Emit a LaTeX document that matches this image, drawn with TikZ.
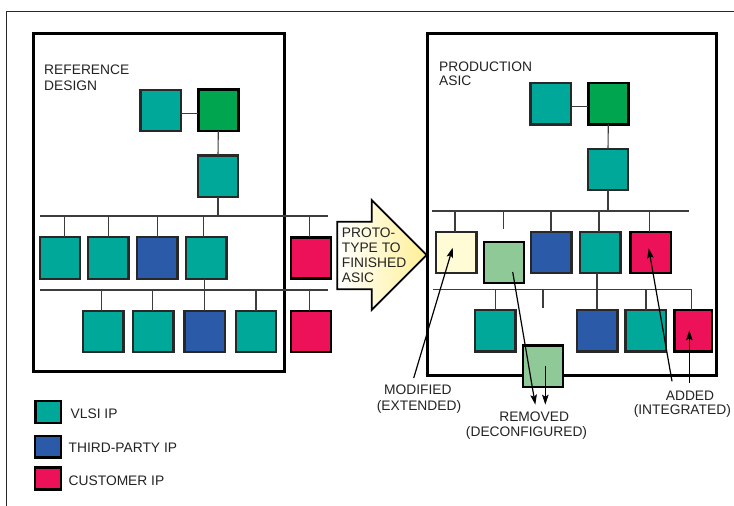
\documentclass[tikz,border=0pt]{standalone}
\usepackage{fontspec}
\setmainfont{Liberation Sans}
\usetikzlibrary{arrows.meta}
\definecolor{teal1}{RGB}{0,168,154}
\definecolor{green1}{RGB}{0,165,80}
\definecolor{blue1}{RGB}{43,90,168}
\definecolor{pink1}{RGB}{237,17,90}
\definecolor{cream1}{RGB}{255,251,213}
\definecolor{lgreen1}{RGB}{143,201,152}
\definecolor{edge1}{RGB}{40,40,40}
\definecolor{wire1}{RGB}{60,60,60}
\definecolor{txt1}{RGB}{35,35,35}
\definecolor{arrowy}{RGB}{255,240,150}
\begin{document}
\begin{tikzpicture}[x=1bp,y=-1bp,
 blk/.style={draw=edge1,line width=2.3bp,minimum width=40.3bp,minimum height=41.3bp,inner sep=0pt,outer sep=0pt},
 sqteal/.style={blk,fill=teal1},
 sqgreen/.style={blk,fill=green1,draw=black,line width=2.7bp},
 sqblue/.style={blk,fill=blue1},
 sqpink/.style={blk,fill=pink1,draw=black,line width=2.6bp},
 sqcream/.style={blk,fill=cream1},
 sqlgreen/.style={blk,fill=lgreen1,draw=black,line width=2.6bp},
 wire/.style={draw=wire1,line width=1.1bp},
 panel/.style={draw=black,line width=2.3bp},
 lbl/.style={text=txt1,font=\fontsize{13.8bp}{17bp}\selectfont,inner sep=0pt,anchor=base west},
 clbl/.style={lbl,anchor=base},
 note/.style={draw=black,line width=1.2bp,-{Stealth[length=10bp,width=6.5bp,inset=2bp]}},
 legendbox/.style={draw=black,line width=2.4bp,minimum width=25.8bp,minimum height=21.8bp,inner sep=0pt}
]
\useasboundingbox (0,0) rectangle (734,506);
\fill[white] (0,0) rectangle (734,506);
% outer frame
\draw[edge1,line width=1bp] (6.7,506) -- (6.7,11.7) -- (734,11.7);
% panels
\draw[panel] (33.5,33.5) rectangle (284.5,371.5);
\draw[panel] (427.5,33.5) rectangle (716.5,375.5);

% ---------- left: reference design
\node[lbl] (refA) at (44,74.3) {REFERENCE};
\node[lbl] (refB) at (44,91) {DESIGN};
\node[sqteal] (la) at (160.5,110.5) {};
\node[sqgreen] (lb) at (218.3,110.5) {};
\node[sqteal] (lc) at (218,176.3) {};
\draw[wire] ([yshift=-3bp]la.east) -- ([yshift=-3bp]lb.west);
\draw[wire] (lb.south) -- (lc.north);
\coordinate (bLa) at (40,216);
\coordinate (bLb) at (327.7,216);
\draw[wire] (bLa) -- (bLb);
\draw[wire] (lc.south) -- (lc.south |- bLa);
\node[sqteal] (l1a) at (60,258) {};
\node[sqteal] (l1b) at (108.3,258) {};
\node[sqblue] (l1c) at (157.3,258) {};
\node[sqteal] (l1d) at (206.3,258) {};
\node[sqpink] (l1e) at (311,258) {};
\draw[wire] (bLa -| 64.3,0) -- (l1a.north -| 64.3,0);
\draw[wire] (bLa -| 108.3,0) -- (l1b.north -| 108.3,0);
\draw[wire] (bLa -| 157.3,0) -- (l1c.north -| 157.3,0);
\draw[wire] (bLa -| 203.7,0) -- (l1d.north -| 203.7,0);
\draw[wire] (bLa -| 309.3,0) -- (l1e.north -| 309.3,0);
\coordinate (bLc) at (40,290);
\coordinate (bLd) at (328,290);
\draw[wire] (bLc) -- (bLd);
\node[sqteal] (l2a) at (103.3,331.5) {};
\node[sqteal] (l2b) at (153.3,331.5) {};
\node[sqblue] (l2c) at (204.7,331.5) {};
\node[sqteal] (l2d) at (256,331.5) {};
\node[sqpink] (l2e) at (311,331.5) {};
\draw[wire] (bLc -| 101.7,0) -- (l2a.north -| 101.7,0);
\draw[wire] (bLc -| 152.7,0) -- (l2b.north -| 152.7,0);
\draw[wire] (l1d.south -| 204.3,0) -- (l2c.north -| 204.3,0);
\draw[wire] (bLc -| 256,0) -- (l2d.north -| 256,0);
\draw[wire] (bLc -| 309.3,0) -- (l2e.north -| 309.3,0);

% ---------- middle arrow
\shadedraw[left color=white, right color=arrowy, draw=black, line width=1.8bp, line join=miter]
  (337.3,221.7) -- (371.7,221.7) -- (371.7,200) -- (426.7,255) -- (371.7,310) -- (371.7,289.3) -- (337.3,289.3) -- cycle;
\node[lbl] (arrA) at (341.7,237.7) {PROTO-};
\node[lbl] (arrB) at (341.7,253) {TYPE TO};
\node[lbl] (arrC) at (341.7,267.7) {FINISHED};
\node[lbl] (arrD) at (341.7,283) {ASIC};

% ---------- right: production asic
\node[lbl] (prodA) at (439,71.5) {PRODUCTION};
\node[lbl] (prodB) at (439,86) {ASIC};
\node[sqteal] (ra) at (550.5,103.8) {};
\node[sqgreen] (rb) at (608.3,103.8) {};
\node[sqteal] (rc) at (608,169.5) {};
\draw[wire] ([yshift=-3bp]ra.east) -- ([yshift=-3bp]rb.west);
\draw[wire] (rb.south) -- (rc.north);
\coordinate (bRa) at (432,211);
\coordinate (bRb) at (688.7,211);
\draw[wire] (bRa) -- (bRb);
\draw[wire] (rc.south) -- (rc.south |- bRa);
\node[sqcream] (r1a) at (456.2,252.5) {};
\node[sqlgreen] (r1b) at (504,262.5) {};
\node[sqblue] (r1c) at (551.2,252.5) {};
\node[sqteal] (r1d) at (600.2,252.5) {};
\node[sqpink] (r1e) at (650.8,252.5) {};
\coordinate (stubA) at (503.3,229.3);
\draw[wire] (bRa -| 455,0) -- (r1a.north -| 455,0);
\draw[wire] (bRa -| stubA) -- (stubA);
\draw[wire] (bRa -| 551,0) -- (r1c.north -| 551,0);
\draw[wire] (bRa -| 599,0) -- (r1d.north -| 599,0);
\draw[wire] (bRa -| 649.3,0) -- (r1e.north -| 649.3,0);
\node[sqteal] (r2a) at (495.3,330.8) {};
\node[sqblue] (r2c) at (597.2,330.8) {};
\node[sqteal] (r2d) at (645.7,330.8) {};
\node[sqpink, minimum width=37.5bp] (r2e) at (693.3,330.8) {};
\coordinate (bRc) at (433.3,289.3);
\coordinate (bRd) at (691.7,289.3);
\draw[wire] (bRc) -- (bRd) -- (r2e.north -| bRd);
\coordinate (stubB) at (543,308.3);
\draw[wire] (bRc -| 495.3,0) -- (r2a.north -| 495.3,0);
\draw[wire] (bRc -| stubB) -- (stubB);
\draw[wire] (r1d.south -| 597,0) -- (r2c.north -| 597,0);
\draw[wire] (bRc -| 646,0) -- (r2d.north -| 646,0);
\node[sqlgreen] (r2b) at (543,366.2) {};

% ---------- annotations
\coordinate (modS) at (413.7,378);   \coordinate (modT) at (452.7,247.7);
\coordinate (remSa) at (512.7,272);  \coordinate (remTa) at (535.3,404.7);
\coordinate (remSb) at (545.3,365.7);\coordinate (remTb) at (545.3,404.7);
\coordinate (addSa) at (672,381.3);  \coordinate (addTa) at (648.7,248.3);
\coordinate (addSb) at (689.3,383);  \coordinate (addTb) at (689.3,330.3);
\draw[note] (modS) -- (modT);
\draw[note] (remSa) -- (remTa);
\draw[note] (remSb) -- (remTb);
\draw[note] (addSa) -- (addTa);
\draw[note] (addSb) -- (addTb);
\node[clbl] (modA) at (417.8,394.7) {MODIFIED};
\node[clbl] (modB) at (419,410) {(EXTENDED)};
\node[clbl] (remA) at (534.2,421.3) {REMOVED};
\node[clbl] (remB) at (526.5,436.3) {(DECONFIGURED)};
\node[clbl] (addA) at (690,400.3) {ADDED};
\node[clbl] (addB) at (682.3,414.7) {(INTEGRATED)};

% ---------- legend
\node[legendbox, fill=teal1] (kv) at (48.3,411.8) {};
\node[legendbox, fill=blue1] (kt) at (47.8,446.7) {};
\node[legendbox, fill=pink1] (kc) at (47.8,478.5) {};
\node[lbl] (kvt) at (70.5,418.7) {VLSI IP};
\node[lbl] (ktt) at (68.5,452.3) {THIRD-PARTY IP};
\node[lbl] (kct) at (68.5,485) {CUSTOMER IP};
\end{tikzpicture}
\end{document}
